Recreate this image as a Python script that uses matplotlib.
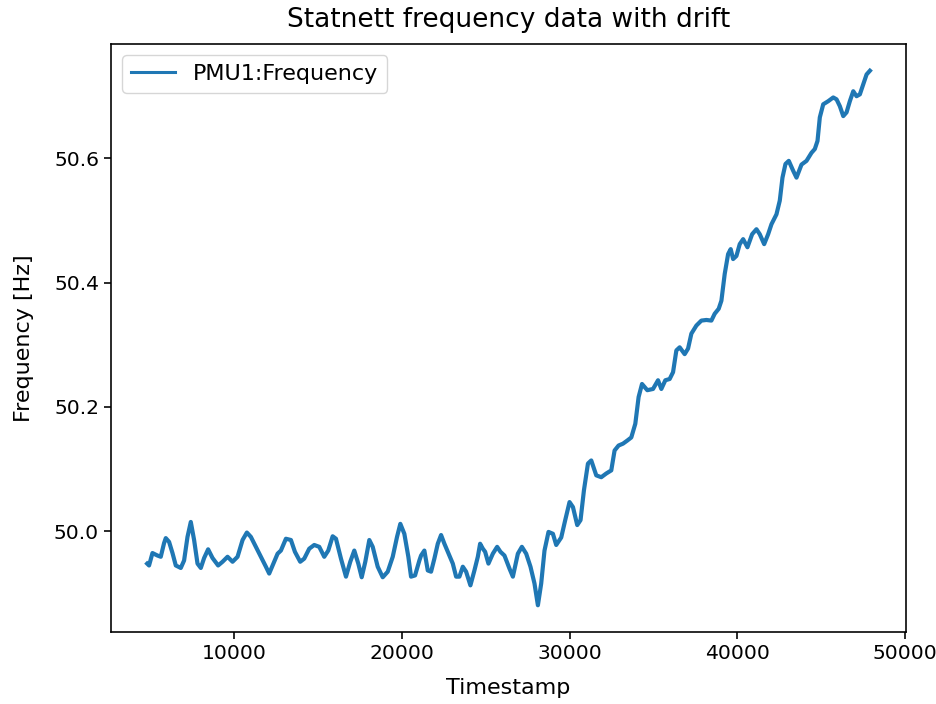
import matplotlib
matplotlib.use("Agg")
import matplotlib.pyplot as plt

# Data (Timestamp, Frequency [Hz])
timestamp = [
    4800, 4914, 5117, 5415, 5612, 5809, 5911, 6108, 6311, 6508, 6806, 7003, 7206, 7403, 7600, 7803,
    8000, 8197, 8436, 8699, 9033, 9296, 9594, 9893, 10191, 10490, 10746, 10985, 11284, 11582, 11881,
    12078, 12281, 12579, 12776, 13075, 13373, 13612, 13928, 14167, 14466, 14764, 15063, 15361, 15600,
    15863, 16060, 16358, 16657, 16913, 17152, 17391, 17594, 17809, 18048, 18251, 18549, 18848, 19146,
    19445, 19701, 19898, 20137, 20376, 20537, 20776, 21033, 21134, 21331, 21534, 21731, 21928, 22131,
    22328, 22525, 22824, 23027, 23224, 23421, 23624, 23821, 24077, 24316, 24519, 24656, 24818, 24955,
    25152, 25415, 25671, 25868, 26107, 26406, 26609, 26907, 27146, 27403, 27659, 27898, 28101, 28298,
    28495, 28734, 28997, 29194, 29492, 29731, 29988, 30191, 30447, 30644, 30847, 31086, 31283, 31582,
    31880, 32179, 32477, 32674, 32913, 33176, 33432, 33671, 33910, 34107, 34310, 34626, 34967, 35265,
    35462, 35701, 35958, 36161, 36358, 36555, 36853, 37056, 37253, 37552, 37850, 38149, 38447, 38644,
    38883, 39044, 39241, 39444, 39599, 39743, 39940, 40137, 40340, 40597, 40877, 41134, 41331, 41594,
    41832, 42029, 42328, 42525, 42686, 42865, 43062, 43325, 43522, 43821, 44119, 44418, 44614, 44775,
    44913, 45116, 45414, 45713, 45910, 46107, 46310, 46507, 46704, 46907, 47104, 47301, 47504, 47701,
    47900,
]
frequency = [
    49.948, 49.945, 49.965, 49.961, 49.959, 49.981, 49.989, 49.983, 49.965, 49.945, 49.941, 49.953,
    49.991, 50.015, 49.986, 49.948, 49.941, 49.957, 49.971, 49.957, 49.945, 49.951, 49.959, 49.951,
    49.959, 49.986, 49.998, 49.991, 49.975, 49.959, 49.943, 49.932, 49.945, 49.964, 49.969, 49.988,
    49.986, 49.967, 49.951, 49.956, 49.972, 49.978, 49.975, 49.959, 49.969, 49.992, 49.988, 49.956,
    49.927, 49.951, 49.969, 49.948, 49.926, 49.951, 49.986, 49.975, 49.943, 49.926, 49.935, 49.959,
    49.991, 50.012, 49.996, 49.959, 49.927, 49.929, 49.953, 49.961, 49.969, 49.937, 49.935, 49.956,
    49.980, 49.994, 49.980, 49.961, 49.948, 49.927, 49.927, 49.943, 49.935, 49.913, 49.937, 49.959,
    49.980, 49.972, 49.967, 49.948, 49.964, 49.975, 49.967, 49.961, 49.940, 49.927, 49.964, 49.975,
    49.964, 49.943, 49.916, 49.881, 49.916, 49.969, 49.999, 49.996, 49.978, 49.990, 50.018, 50.047,
    50.039, 50.010, 50.018, 50.066, 50.109, 50.114, 50.090, 50.087, 50.093, 50.098, 50.130, 50.138,
    50.141, 50.146, 50.151, 50.173, 50.216, 50.237, 50.227, 50.229, 50.243, 50.229, 50.243, 50.245,
    50.256, 50.291, 50.296, 50.285, 50.294, 50.318, 50.331, 50.339, 50.340, 50.339, 50.350, 50.358,
    50.371, 50.414, 50.446, 50.454, 50.438, 50.443, 50.462, 50.470, 50.457, 50.478, 50.486, 50.478,
    50.462, 50.478, 50.494, 50.510, 50.532, 50.569, 50.591, 50.596, 50.580, 50.569, 50.590, 50.596,
    50.609, 50.615, 50.628, 50.666, 50.687, 50.692, 50.698, 50.695, 50.684, 50.668, 50.674, 50.692,
    50.708, 50.700, 50.703, 50.719, 50.735, 50.741,
]

plt.rcParams.update({
    "font.size": 14.6,
    "axes.linewidth": 1.17,
    "xtick.major.width": 1.17,
    "ytick.major.width": 1.17,
    "xtick.major.size": 5.1,
    "ytick.major.size": 5.1,
})

fig = plt.figure(figsize=(9.36, 7.04), dpi=100)
ax = fig.add_axes([0.1186, 0.1023, 0.8494, 0.8352])
ax.plot(timestamp, frequency, color="#1f77b4", linewidth=3.0, label="PMU1:Frequency")
ax.set_title("Statnett frequency data with drift", fontsize=19, pad=12)
ax.set_xlabel("Timestamp", fontsize=16, labelpad=11)
ax.set_ylabel("Frequency [Hz]", fontsize=16, labelpad=14)
ax.set_yticks([50.0, 50.2, 50.4, 50.6])
leg = ax.legend(loc="upper left", fontsize=16)
leg.get_lines()[0].set_linewidth(2.2)
fig.savefig("out.png", dpi=100)
